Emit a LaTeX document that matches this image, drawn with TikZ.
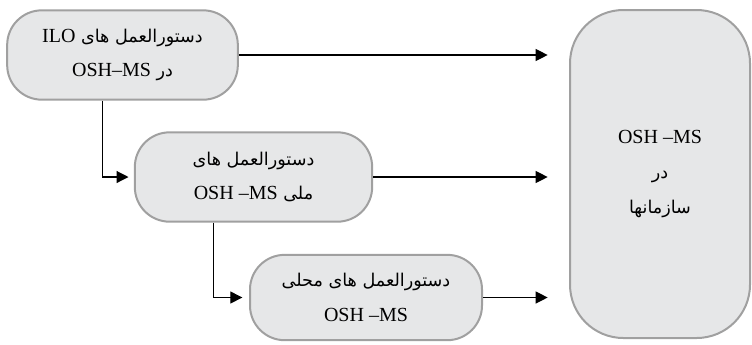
\documentclass[tikz,border=0pt]{standalone}
\usepackage{fontspec}
\setmainfont{Liberation Serif}
\newfontfamily\arabicfont[Script=Arabic,Scale=0.88]{DejaVu Sans}
\TeXXeTstate=1
\usetikzlibrary{arrows.meta}
\newcommand{\fa}[1]{{\arabicfont\beginR #1\endR}}
\newcommand{\en}[1]{\beginL{\rmfamily #1}\endL}
\definecolor{boxfill}{HTML}{E6E7E8}
\definecolor{boxline}{HTML}{A0A0A0}

\begin{document}
\begin{tikzpicture}[x=0.75pt,y=-0.75pt,
	rulebox/.style={
		draw=boxline,
		line width=1.5pt,
		fill=boxfill,
		rounded corners=26pt,
		align=center,
		inner sep=0pt,
		font=\fontsize{15pt}{26pt}\selectfont
	},
	link/.style={
		line width=0.9pt,
		-{Triangle[length=9pt,width=9pt]}
	}]

	\useasboundingbox (0,0) rectangle (752,344);

	\node[rulebox,minimum width=173pt,minimum height=67pt] (ilo) at (122.5,55)
		{\fa{دستورالعمل های \en{ILO}}\\ \fa{در \en{OSH–MS}}};
	\node[rulebox,minimum width=178pt,minimum height=67pt] (melli) at (253.5,177)
		{\fa{دستورالعمل های}\\ \fa{ملی \en{OSH –MS}}};
	\node[rulebox,minimum width=174pt,minimum height=64pt] (mahalli) at (366,297.5)
		{\fa{دستورالعمل های محلی}\\ \en{OSH –MS}};
	\node[rulebox,rounded corners=40pt,minimum width=135pt,minimum height=246pt] (org) at (660,174)
		{\en{OSH –MS}\\ \fa{در}\\ \fa{سازمانها}};

	% arrows to the organisation box
	\draw[link,shorten >=16pt] (ilo.east) -- (ilo.east -| org.west);
	\draw[link,shorten >=16pt] (melli.east) -- (melli.east -| org.west);
	\draw[link,shorten >=16pt] (mahalli.east) -- (mahalli.east -| org.west);

	% down the levels
	\draw[link,shorten >=4pt] ([xshift=-15pt]ilo.south) |- (melli.west);
	\draw[link,shorten >=5pt] ([xshift=-30pt]melli.south) |- (mahalli.west);
\end{tikzpicture}
\end{document}
